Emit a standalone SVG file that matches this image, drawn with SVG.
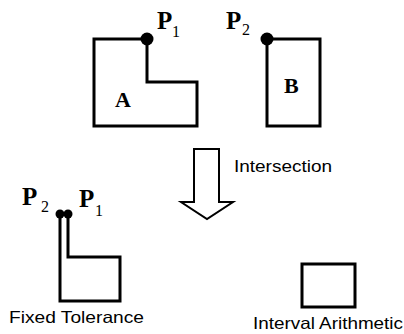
<svg xmlns="http://www.w3.org/2000/svg" width="404" height="334" viewBox="0 0 404 334">
<style>
.sh{fill:none;stroke:#000;stroke-width:3;stroke-linejoin:miter}
.dot{fill:#000}
.p{font-family:"Liberation Serif","Times New Roman",serif;font-weight:bold;font-size:25px;fill:#000}
.sub{font-family:"Liberation Serif","Times New Roman",serif;font-weight:normal;font-size:16px;fill:#000}
.lbl{font-family:"Liberation Serif","Times New Roman",serif;font-weight:bold;font-size:22px;fill:#000}
.cap{font-family:"Liberation Sans",Arial,sans-serif;font-size:16.5px;fill:#000}
</style>
<rect width="404" height="334" fill="#fff"/>
<g id="shapeA">
<path class="sh" d="M147,39 H94 V126 H197 V82 H147 Z"/>
<circle class="dot" cx="147" cy="39" r="6.5"/>
<text class="lbl" x="115" y="107">A</text>
<text class="p" x="157" y="29">P</text><text class="sub" x="172" y="37">1</text>
</g>
<g id="shapeB">
<rect class="sh" x="267" y="39" width="53" height="87"/>
<circle class="dot" cx="267" cy="39" r="6.5"/>
<text class="lbl" x="284" y="93">B</text>
<text class="p" x="226" y="29">P</text><text class="sub" x="242" y="35">2</text>
</g>
<g id="connectors">
<polygon points="194,149 219,149 219,202 233,202 207,219 181,202 194,202" fill="#fff" stroke="#000" stroke-width="2"/>
<text class="cap" x="234" y="172" textLength="98" lengthAdjust="spacingAndGlyphs">Intersection</text>
</g>
<g id="fixedTolerance">
<path class="sh" d="M60,214 V301 H120 V257 H68 V214"/>
<circle class="dot" cx="60" cy="214" r="4.5"/>
<circle class="dot" cx="68" cy="214" r="4.5"/>
<text class="p" x="22" y="205">P</text><text class="sub" x="41" y="212">2</text>
<text class="p" x="79" y="207">P</text><text class="sub" x="95" y="216">1</text>
<text class="cap" x="9" y="323" textLength="135" lengthAdjust="spacingAndGlyphs">Fixed Tolerance</text>
</g>
<g id="intervalArithmetic">
<rect class="sh" x="302" y="264" width="53" height="43"/>
<text class="cap" x="253" y="329" textLength="150" lengthAdjust="spacingAndGlyphs">Interval Arithmetic</text>
</g>
</svg>
